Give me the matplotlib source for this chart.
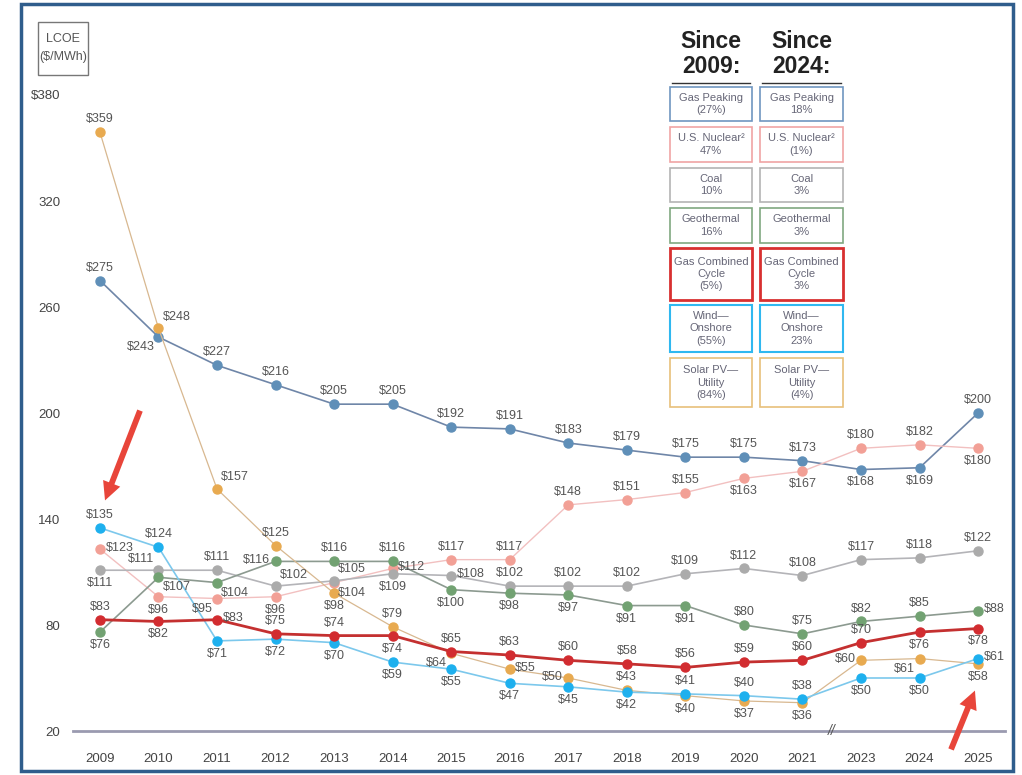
import matplotlib
matplotlib.use('Agg')
import matplotlib.pyplot as plt
from matplotlib.patches import Rectangle

plt.rcParams['font.family'] = ['Liberation Sans Narrow', 'Liberation Sans', 'DejaVu Sans']

# data
years = ['2009', '2010', '2011', '2012', '2013', '2014', '2015', '2016', '2017',
         '2018', '2019', '2020', '2021', '2023', '2024', '2025']
gas_peaking = [275, 243, 227, 216, 205, 205, 192, 191, 183, 179, 175, 175, 173, 168, 169, 200]
nuclear = [123, 96, 95, 96, 104, 112, 117, 117, 148, 151, 155, 163, 167, 180, 182, 180]
coal = [111, 111, 111, 102, 105, 109, 108, 102, 102, 102, 109, 112, 108, 117, 118, 122]
geothermal = [76, 107, 104, 116, 116, 116, 100, 98, 97, 91, 91, 80, 75, 82, 85, 88]
gas_cc = [83, 82, 83, 75, 74, 74, 65, 63, 60, 58, 56, 59, 60, 70, 76, 78]
wind = [135, 124, 71, 72, 70, 59, 55, 47, 45, 42, 41, 40, 38, 50, 50, 61]
solar = [359, 248, 157, 125, 98, 79, 64, 55, 50, 43, 40, 37, 36, 60, 61, 58]

since_2009 = ['Gas Peaking\n(27%)', 'U.S. Nuclear²\n47%', 'Coal\n10%', 'Geothermal\n16%',
              'Gas Combined\nCycle\n(5%)', 'Wind—\nOnshore\n(55%)', 'Solar PV—\nUtility\n(84%)']
since_2024 = ['Gas Peaking\n18%', 'U.S. Nuclear²\n(1%)', 'Coal\n3%', 'Geothermal\n3%',
              'Gas Combined\nCycle\n3%', 'Wind—\nOnshore\n23%', 'Solar PV—\nUtility\n(4%)']

yticks = [20, 80, 140, 200, 260, 320, 380]
ytick_labels = ['20', '80', '140', '200', '260', '320', '$380']

# label placement per point
OFFS = {'a': (0, 5, 'center', 'bottom'), 'b': (0, -5, 'center', 'top'),
        'r': (4, 1, 'left', 'center'), 'l': (-4, 1, 'right', 'center'),
        'ar': (3, 4, 'left', 'bottom'), 'al': (-3, 4, 'right', 'bottom'),
        'br': (3, -3, 'left', 'top'), 'bl': (-3, -3, 'right', 'top')}

series = [
    # values, line color, marker color, lw, label placement
    (gas_peaking, '#6f86a8', '#5f8fb8', 1.2,
     ['a', 'bl', 'a', 'a', 'a', 'a', 'a', 'a', 'a', 'a', 'a', 'a', 'a', 'b', 'b', 'a']),
    (nuclear, '#f2c0c0', '#f2a096', 1.0,
     ['r', 'b', 'bl', 'b', 'br', 'r', 'a', 'a', 'a', 'a', 'a', 'b', 'b', 'a', 'a', 'b']),
    (coal, '#b4b4b8', '#ababab', 1.2,
     ['b', 'al', 'a', 'ar', 'ar', 'b', 'r', 'a', 'a', 'a', 'a', 'a', 'a', 'a', 'a', 'a']),
    (geothermal, '#8c9a90', '#72a272', 1.2,
     ['b', 'br', 'br', 'l', 'a', 'a', 'b', 'b', 'b', 'b', 'b', 'a', 'a', 'a', 'a', 'r']),
    (solar, '#d8b890', '#e8aa50', 0.9,
     ['a', 'ar', 'ar', 'a', 'b', 'a', 'bl', 'r', 'l', 'a', 'b', 'b', 'b', 'l', 'bl', 'b']),
    (wind, '#7cc8ec', '#1eb0ee', 1.2,
     ['a', 'a', 'b', 'b', 'b', 'b', 'b', 'b', 'b', 'b', 'a', 'a', 'a', 'b', 'b', 'r']),
    (gas_cc, '#c43030', '#d22c30', 2.0,
     ['a', 'b', 'r', 'a', 'a', 'b', 'a', 'a', 'a', 'a', 'a', 'a', 'a', 'a', 'b', 'b']),
]

W, H = 1022, 775
fig = plt.figure(figsize=(W / 100, H / 100), dpi=100)


def fx(px):
    return px / W


def fy(py):
    return 1 - py / H


ax = fig.add_axes([fx(73), fy(731), fx(1005) - fx(73), fy(95) - fy(731)])
x = list(range(len(years)))

for vals, lc, mc, lw, pos in series:
    ax.plot(x, vals, color=lc, lw=lw, marker='o', ms=6.5, mfc=mc, mec=mc, zorder=3)
    for xi, v, p in zip(x, vals, pos):
        dx, dy, ha, va = OFFS[p]
        ax.annotate(f'${v}', (xi, v), xytext=(dx, dy), textcoords='offset points',
                    ha=ha, va=va, fontsize=9, color='#555555', zorder=5,
                    annotation_clip=False)

ax.set_xlim(-0.46, 15.46)
ax.set_ylim(20, 380)
ax.set_xticks(x)
ax.set_xticklabels(years, fontsize=9.5, color='#444444')
ax.set_yticks(yticks)
ax.set_yticklabels(ytick_labels, fontsize=9.5, color='#444444')
ax.tick_params(axis='both', length=0)
ax.tick_params(axis='x', pad=16)
ax.tick_params(axis='y', pad=9)
for s in ['top', 'right', 'left']:
    ax.spines[s].set_visible(False)
ax.spines['bottom'].set_color('#9a9ab0')
ax.spines['bottom'].set_linewidth(2)
ax.text(12.5, 20, '//', fontsize=10, color='#555555', ha='center', va='center',
        style='italic', zorder=6)

# y-axis label box
fig.patches.append(Rectangle((fx(38), fy(75)), fx(88) - fx(38), fy(22) - fy(75),
                             transform=fig.transFigure, fill=False, ec='#777777', lw=1))
fig.text(fx(63), fy(48), 'LCOE\n($/MWh)', ha='center', va='center', fontsize=9,
         color='#555555', linespacing=1.6)

# legend table
box_colors = ['#6f96c0', '#f0a4a4', '#b4b4b4', '#80a880', '#d83030', '#30b8f0', '#e8c07a']
box_lw = [1.2, 1.2, 1.2, 1.2, 2.0, 1.5, 1.2]
rows = [(87, 121), (127, 162), (168, 202), (208, 243), (248, 300), (305, 352), (358, 407)]
cols = [(670, 752), (760, 843)]
for (c0, c1), texts in zip(cols, [since_2009, since_2024]):
    for (r0, r1), t, ec, lw in zip(rows, texts, box_colors, box_lw):
        fig.patches.append(Rectangle((fx(c0), fy(r1)), fx(c1) - fx(c0), fy(r0) - fy(r1),
                                     transform=fig.transFigure, fill=False, ec=ec, lw=lw))
        fig.text(fx((c0 + c1) / 2), fy((r0 + r1) / 2), t, ha='center', va='center',
                 fontsize=8, color='#666677', linespacing=1.3)
for (c0, c1), head in zip(cols, ['Since\n2009:', 'Since\n2024:']):
    fig.text(fx((c0 + c1) / 2), fy(54), head, ha='center', va='center', fontsize=16.5,
             fontweight='bold', color='#222222', linespacing=1.15, family='Liberation Sans')
    fig.add_artist(plt.Line2D([fx(c0 + 2), fx(c1 - 2)], [fy(83), fy(83)], color='#333333', lw=1))

# red arrows
arrow = dict(arrowstyle='simple,head_width=1.1,head_length=1.1,tail_width=0.35',
             color='#e8453a', lw=0)
fig.add_artist(matplotlib.patches.FancyArrowPatch((fx(141), fy(408)), (fx(104), fy(503)),
                                                  transform=fig.transFigure,
                                                  mutation_scale=12, **arrow))
fig.add_artist(matplotlib.patches.FancyArrowPatch((fx(950), fy(752)), (fx(976), fy(688)),
                                                  transform=fig.transFigure,
                                                  mutation_scale=12, **arrow))

# frame
fig.patches.append(Rectangle((fx(21), fy(771)), fx(1013) - fx(21), fy(4) - fy(771),
                             transform=fig.transFigure, fill=False, ec='#2f5d8c', lw=2.5))

fig.savefig('out.png', dpi=100)
